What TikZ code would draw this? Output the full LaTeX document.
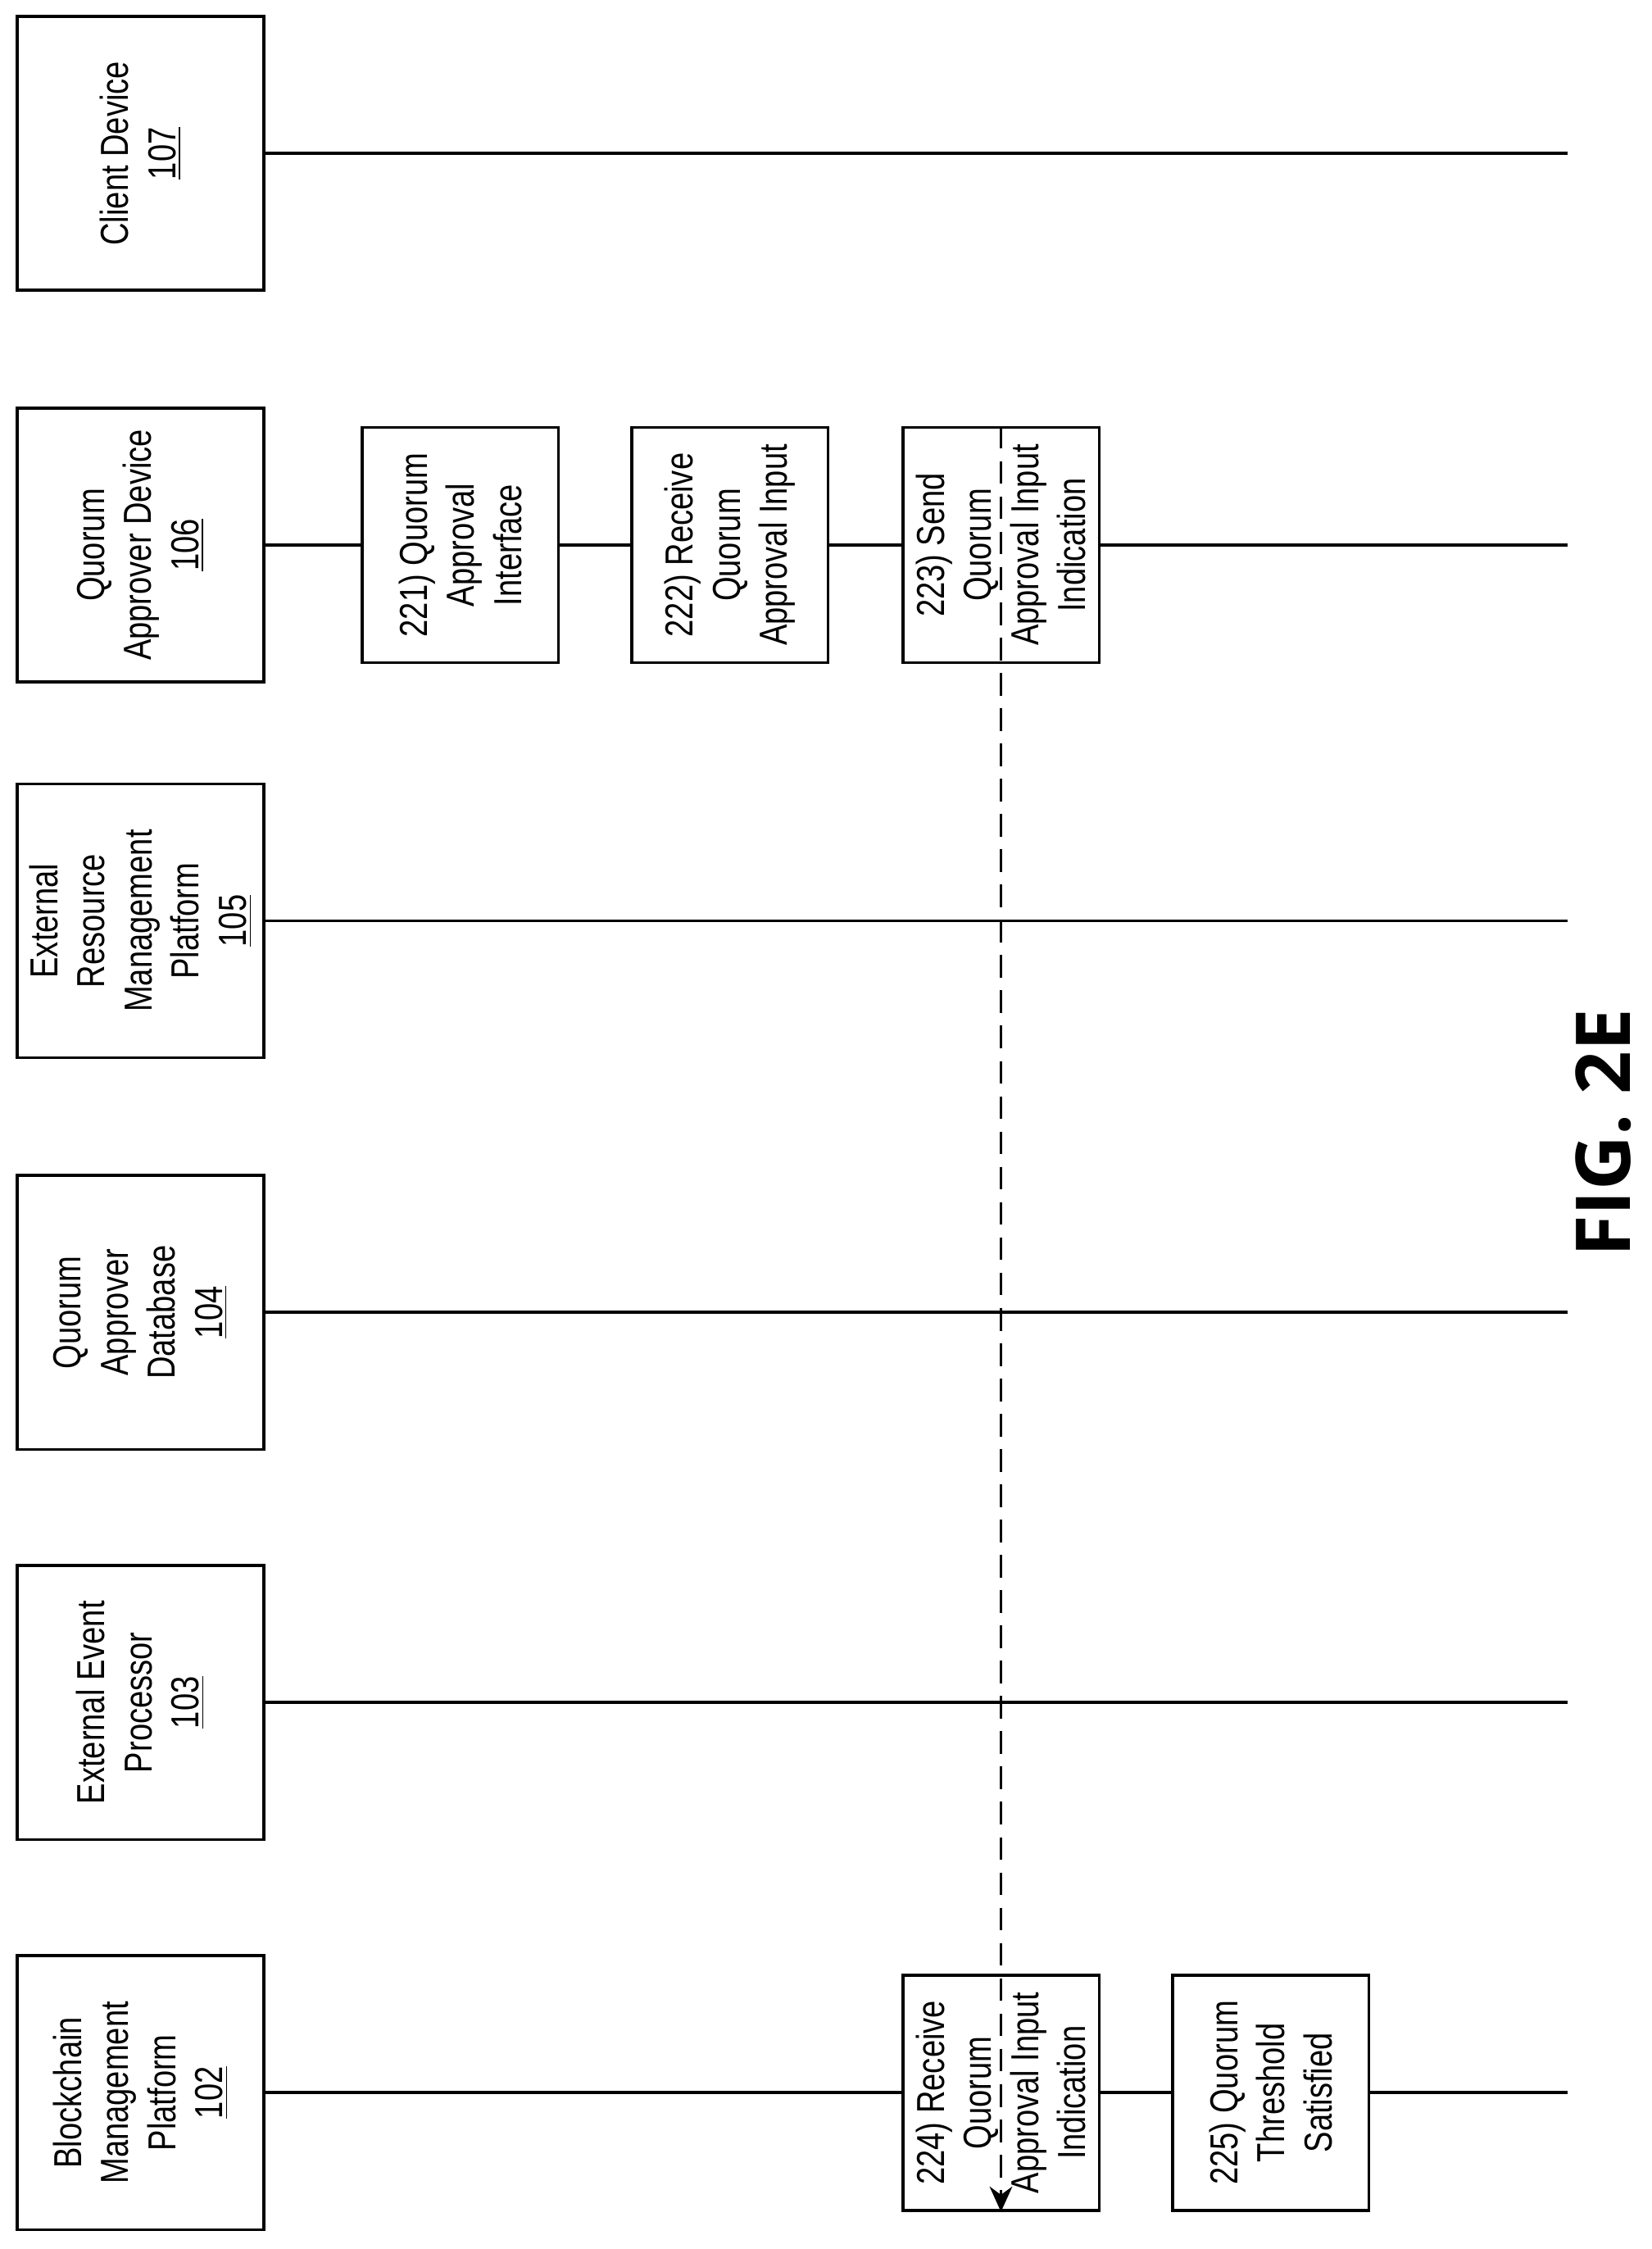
\documentclass[tikz,border=0pt]{standalone}
\usepackage{fontspec}
\setmainfont{Liberation Sans}[FakeStretch=0.8]
\newfontfamily\figfont{Open Sans}
\usetikzlibrary{arrows.meta}
\begin{document}
\begin{tikzpicture}[x=0.02cm,y=-0.02cm,
  actor/.style={draw,line width=1.2pt,rotate=90,minimum width=3.82cm,minimum height=3.44cm,align=center,font=\fontsize{15.5}{18.7}\selectfont,inner sep=0pt,fill=white},
  stepbox/.style={draw,line width=1.2pt,rotate=90,minimum width=3.28cm,minimum height=2.74cm,align=center,font=\fontsize{15.5}{18.7}\selectfont,inner sep=0pt,fill=white},
  life/.style={line width=1.2pt}]
\useasboundingbox (0,0) rectangle (1152,1568);
\foreach \n/\y/\t in {c107/107/{Client Device\\\underline{107}},
  q106/380/{Quorum\\Approver Device\\\underline{106}},
  e105/642/{External\\Resource\\Management\\Platform\\\underline{105}},
  d104/915/{Quorum\\Approver\\Database\\\underline{104}},
  p103/1187/{External Event\\Processor\\\underline{103}},
  b102/1459/{Blockchain\\Management\\Platform\\\underline{102}}}{
  \node[actor] (\n) at (98,\y) {\t};
  \coordinate (\n e) at (1093,\y);
  \draw[life] (\n.south) -- (\n e);
}
\node[stepbox] (s221) at (321,380) {221) Quorum\\Approval\\Interface};
\node[stepbox] (s222) at (509,380) {222) Receive\\Quorum\\Approval Input};
\node[stepbox] (s223) at (698,380) {223) Send\\Quorum\\Approval Input\\Indication};
\node[stepbox] (s224) at (698,1459) {224) Receive\\Quorum\\Approval Input\\Indication};
\node[stepbox] (s225) at (886,1459) {225) Quorum\\Threshold\\Satisfied};
\draw[line width=1.2pt,dashed,dash pattern=on 9pt off 5pt,-{Stealth[length=10pt,width=9pt]}] (s223.east) -- (s224.west);
\node[rotate=90,font=\figfont\bfseries\fontsize{30}{36}\selectfont] (fig) at (1118,790) {FIG. 2E};
\end{tikzpicture}
\end{document}
